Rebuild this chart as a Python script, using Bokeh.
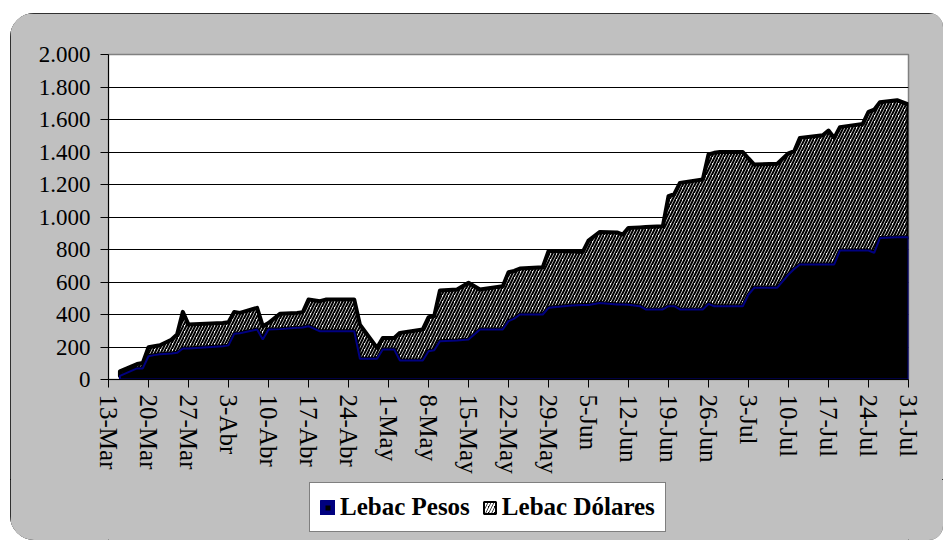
import pandas as pd
from bokeh.plotting import figure
from bokeh.layouts import column
from bokeh.models import Range1d, FixedTicker, Legend, LegendItem
from bokeh.embed import file_html
from bokeh.resources import INLINE

# ---- data (millones) ----
dates = ["2002-03-15", "2002-03-18", "2002-03-19", "2002-03-20", "2002-03-21", "2002-03-22",
         "2002-03-24", "2002-03-25", "2002-03-26", "2002-03-27", "2002-04-02", "2002-04-03",
         "2002-04-04", "2002-04-05", "2002-04-08", "2002-04-09", "2002-04-10", "2002-04-12",
         "2002-04-15", "2002-04-16", "2002-04-17", "2002-04-19", "2002-04-20", "2002-04-25",
         "2002-04-26", "2002-04-29", "2002-04-30", "2002-05-02", "2002-05-03", "2002-05-07",
         "2002-05-08", "2002-05-09", "2002-05-10", "2002-05-13", "2002-05-15", "2002-05-17",
         "2002-05-21", "2002-05-22", "2002-05-23", "2002-05-24", "2002-05-28", "2002-05-29",
         "2002-06-02", "2002-06-04", "2002-06-05", "2002-06-07", "2002-06-10", "2002-06-11",
         "2002-06-12", "2002-06-14", "2002-06-15", "2002-06-18", "2002-06-19", "2002-06-20",
         "2002-06-21", "2002-06-25", "2002-06-26", "2002-06-27", "2002-06-28", "2002-07-02",
         "2002-07-03", "2002-07-04", "2002-07-08", "2002-07-10", "2002-07-11", "2002-07-12",
         "2002-07-16", "2002-07-17", "2002-07-18", "2002-07-19", "2002-07-23", "2002-07-24",
         "2002-07-25", "2002-07-26", "2002-07-29", "2002-07-31"]

lebac_pesos = [22, 68, 68, 143, 150, 155,
               160, 164, 191, 191, 205, 210,
               281, 285, 308, 246, 308, 310,
               318, 320, 328, 297, 297, 297,
               128, 128, 185, 185, 117, 117,
               174, 180, 236, 240, 246, 308,
               308, 359, 375, 400, 400, 441,
               455, 458, 459, 471, 462, 462,
               460, 451, 431, 431, 451, 451,
               431, 431, 465, 451, 451, 451,
               523, 564, 564, 646, 680, 708,
               708, 708, 708, 794, 794, 794,
               779, 871, 875, 875]

lebac_dolares = [28, 27, 34, 56, 55, 56,
                 85, 113, 225, 147, 143, 142,
                 135, 125, 133, 82, 40, 94,
                 92, 94, 164, 185, 195, 195,
                 210, 67, 71, 71, 170, 191,
                 209, 210, 312, 314, 349, 246,
                 266, 301, 293, 283, 291, 349,
                 333, 327, 396, 437, 443, 430,
                 473, 485, 507, 512, 677, 689,
                 779, 800, 920, 944, 949, 949,
                 837, 759, 763, 746, 725, 779,
                 795, 824, 779, 759, 779, 853,
                 881, 835, 844, 817]

tick_dates = ["2002-03-13", "2002-03-20", "2002-03-27", "2002-04-03", "2002-04-10", "2002-04-17",
              "2002-04-24", "2002-05-01", "2002-05-08", "2002-05-15", "2002-05-22", "2002-05-29",
              "2002-06-05", "2002-06-12", "2002-06-19", "2002-06-26", "2002-07-03", "2002-07-10",
              "2002-07-17", "2002-07-24", "2002-07-31"]
tick_labels = ["13-Mar", "20-Mar", "27-Mar", "3-Abr", "10-Abr", "17-Abr", "24-Abr", "1-May",
               "8-May", "15-May", "22-May", "29-May", "5-Jun", "12-Jun", "19-Jun", "26-Jun",
               "3-Jul", "10-Jul", "17-Jul", "24-Jul", "31-Jul"]

y_ticks = [0, 200, 400, 600, 800, 1000, 1200, 1400, 1600, 1800, 2000]
y_labels = ["0", "200", "400", "600", "800", "1.000", "1.200", "1.400", "1.600", "1.800", "2.000"]

series_names = ["Lebac Pesos", "Lebac Dólares"]


def to_ms(strs):
    return [int(v) for v in (pd.to_datetime(strs).astype("int64") // 10**6)]


xs = to_ms(dates)
tick_ms = to_ms(tick_dates)
total = [a + b for a, b in zip(lebac_pesos, lebac_dolares)]

# stacked polygons built from the series
dol_x = xs + xs[::-1]
dol_y = total + lebac_pesos[::-1]
pes_x = xs + [xs[-1], xs[0]]
pes_y = lebac_pesos + [0, 0]

FONT = "Liberation Serif"
GRAY = "#C0C0C0"

# ---------------- main chart ----------------
p = figure(width=933, height=466, x_axis_type="datetime",
           x_range=Range1d(tick_ms[0], tick_ms[-1]), y_range=Range1d(0, 2000),
           output_backend="svg", toolbar_location=None,
           min_border_left=98, min_border_right=35, min_border_top=41, min_border_bottom=100)
p.border_fill_color = GRAY
p.background_fill_color = "white"
p.outline_line_color = "#808080"
p.outline_line_width = 1.5

p.patch(dol_x, dol_y, fill_color="white", hatch_pattern="/", hatch_color="black",
        hatch_scale=6, hatch_weight=2.1, line_color="black", line_width=4, line_join="round")
p.patch(pes_x, pes_y, fill_color="black", line_color="#000080", line_width=2)

p.yaxis.ticker = FixedTicker(ticks=y_ticks)
p.yaxis.major_label_overrides = dict(zip(y_ticks, y_labels))
p.xaxis.ticker = FixedTicker(ticks=tick_ms)
p.xaxis.major_label_overrides = dict(zip(tick_ms, tick_labels))
p.xaxis.major_label_orientation = "vertical"
for ax in (p.xaxis, p.yaxis):
    ax.major_label_text_font = FONT
    ax.major_label_text_color = "black"
    ax.axis_line_color = "black"
    ax.axis_line_width = 1
    ax.major_tick_line_color = "black"
    ax.major_tick_out = 8
    ax.major_tick_in = 0
    ax.minor_tick_line_color = None
p.yaxis.major_label_text_font_size = "23px"
p.xaxis.major_label_text_font_size = "25px"
p.yaxis.major_label_standoff = 10
p.xaxis.major_label_standoff = 7

p.xgrid.visible = False
p.ygrid.ticker = FixedTicker(ticks=y_ticks)
p.ygrid.grid_line_color = "black"
p.ygrid.grid_line_width = 1

# ---------------- legend strip ----------------
q = figure(width=933, height=61, x_range=Range1d(0, 1), y_range=Range1d(0, 1),
           output_backend="svg", toolbar_location=None,
           x_axis_location=None, y_axis_location=None, min_border=0)
q.border_fill_color = GRAY
q.background_fill_color = GRAY
q.outline_line_color = None
q.xgrid.visible = False
q.ygrid.visible = False

# same series, outside this strip's view: only their legend swatches show
leg_p = q.patch(pes_x, pes_y, fill_color="black", line_color="#000080", line_width=7)
leg_d = q.patch(dol_x, dol_y, fill_color="black", hatch_pattern="/", hatch_color="white",
                hatch_scale=6, hatch_weight=2, line_color="black", line_width=2)

legend = Legend(items=[LegendItem(label=series_names[0], renderers=[leg_p]),
                       LegendItem(label=series_names[1], renderers=[leg_d])],
                location=(201, 8), orientation="horizontal",
                label_text_font=FONT, label_text_font_style="bold",
                label_text_font_size="25px", label_text_color="black",
                glyph_width=15, glyph_height=15, label_standoff=5, spacing=12,
                padding=10, margin=0, border_line_color="black", border_line_width=1,
                background_fill_color="white", background_fill_alpha=1)
q.add_layout(legend)

layout = column(p, q, spacing=0,
                styles={"margin-left": "10px", "margin-top": "13px",
                        "border-radius": "24px 14px 14px 24px", "overflow": "hidden",
                        "outline": "1px solid black", "outline-offset": "-1px",
                        "background-color": GRAY})

open("out.html", "w").write(file_html(layout, INLINE))
